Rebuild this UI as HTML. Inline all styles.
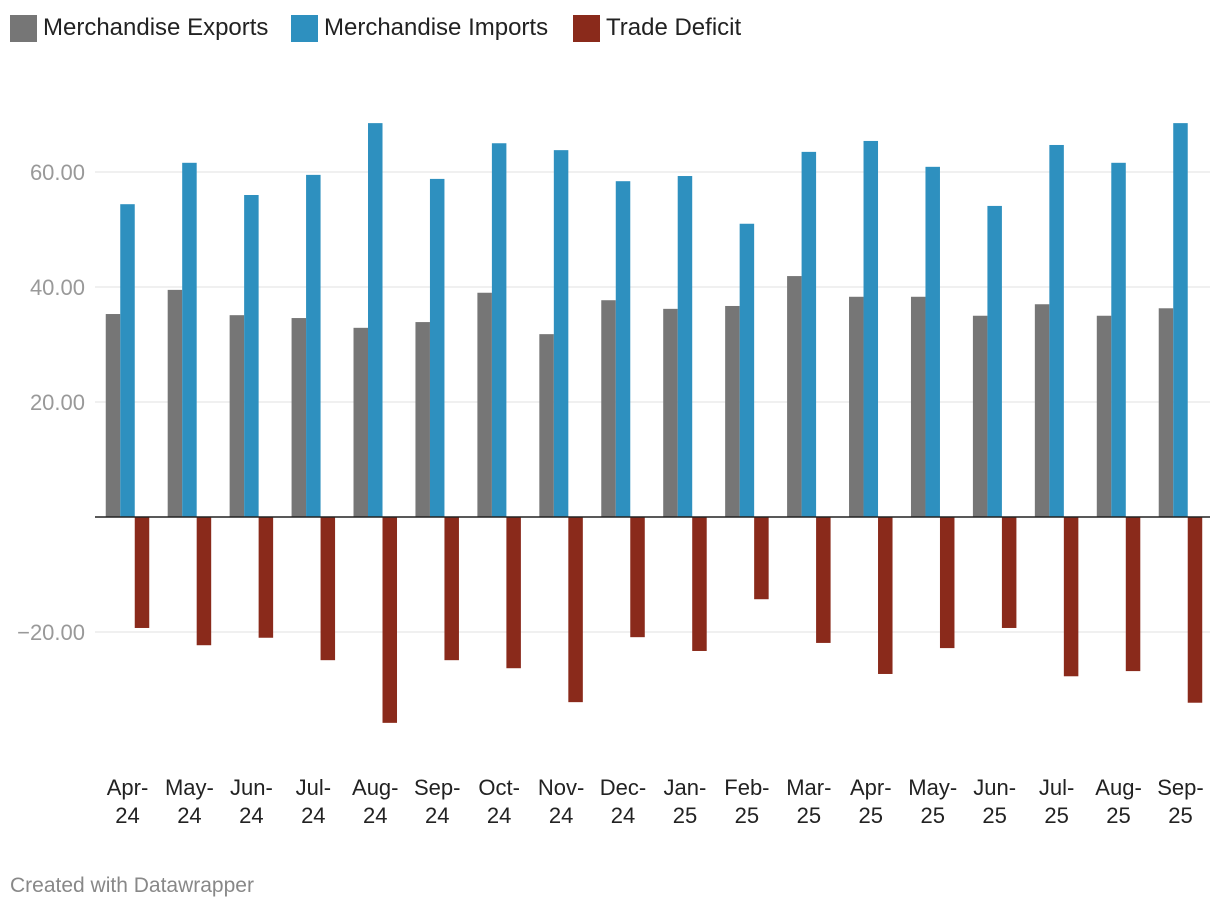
<!DOCTYPE html>
<html><head><meta charset="utf-8">
<style>
body{margin:0;background:#fff;font-family:"Liberation Sans",Roboto,sans-serif;}
#wrap{position:relative;width:1220px;height:910px;overflow:hidden}
.leg{position:absolute;top:14px;display:flex;align-items:center;font-size:24px;color:#222}
.sw{width:27px;height:27px;margin-right:6px}
#foot{position:absolute;left:10px;top:874px;font-size:21px;color:#888}
</style></head><body>
<div id="wrap">
<div class="leg" style="left:10px"><div class="sw" style="background:#767676"></div>Merchandise Exports</div>
<div class="leg" style="left:291px"><div class="sw" style="background:#2e90bf"></div>Merchandise Imports</div>
<div class="leg" style="left:573px"><div class="sw" style="background:#8a2a1b"></div>Trade Deficit</div>
<svg id="chart" width="1220" height="910" style="position:absolute;left:0;top:0"></svg>
<div id="foot">Created with Datawrapper</div>
</div>
<script>
const categories=["Apr-|24","May-|24","Jun-|24","Jul-|24","Aug-|24","Sep-|24","Oct-|24","Nov-|24","Dec-|24","Jan-|25","Feb-|25","Mar-|25","Apr-|25","May-|25","Jun-|25","Jul-|25","Aug-|25","Sep-|25"];
const exportsVals=[35.3,39.5,35.1,34.6,32.9,33.9,39.0,31.8,37.7,36.2,36.7,41.9,38.3,38.3,35.0,37.0,35.0,36.3];
const importsVals=[54.4,61.6,56.0,59.5,68.5,58.8,65.0,63.8,58.4,59.3,51.0,63.5,65.4,60.9,54.1,64.7,61.6,68.5];
const deficitVals=[-19.3,-22.3,-21.0,-24.9,-35.8,-24.9,-26.3,-32.2,-20.9,-23.3,-14.3,-21.9,-27.3,-22.8,-19.3,-27.7,-26.8,-32.3];
const yTicks=[60,40,20,-20];
const NS="http://www.w3.org/2000/svg";
const svg=document.getElementById('chart');
const y=v=>517-v*5.75;
const xc=i=>127.5+i*61.94;
function mk(t,a){const e=document.createElementNS(NS,t);for(const k in a)e.setAttribute(k,a[k]);svg.appendChild(e);return e;}
yTicks.forEach(t=>{
  const l=mk('line',{x1:95,x2:1210,y1:y(t),y2:y(t),stroke:'#e2e2e2','stroke-width':1});
  
  
  const tx=mk('text',{x:85,y:y(t)+8,'text-anchor':'end','font-size':22,fill:'#999','font-family':'Liberation Sans, sans-serif'});
  tx.textContent=(t<0?'\u2212'+Math.abs(t).toFixed(2):t.toFixed(2));
  
  
});
const bw=14.5;
const series=[[exportsVals,'#767676',-1.5,'bar-export'],[importsVals,'#2e90bf',-0.5,'bar-import'],[deficitVals,'#8a2a1b',0.5,'bar-deficit']];
categories.forEach((c,i)=>{
  series.forEach(([vals,col,off,nm])=>{
    const v=vals[i];
    const r=mk('rect',{x:xc(i)+off*bw,y:Math.min(y(v),y(0)),width:bw,height:Math.abs(y(v)-y(0)),fill:col});
    
    
  });
  const [a,b]=c.split('|');
  const t=mk('text',{x:xc(i),y:795,'text-anchor':'middle','font-size':22,fill:'#222','font-family':'Liberation Sans, sans-serif'});
  
  
  const s1=document.createElementNS(NS,'tspan');s1.setAttribute('x',xc(i));s1.textContent=a;t.appendChild(s1);
  const s2=document.createElementNS(NS,'tspan');s2.setAttribute('x',xc(i));s2.setAttribute('dy',28);s2.textContent=b;t.appendChild(s2);
});
const z=mk('line',{x1:95,x2:1210,y1:y(0),y2:y(0),stroke:'#222','stroke-width':1.5});


</script>
</body></html>
